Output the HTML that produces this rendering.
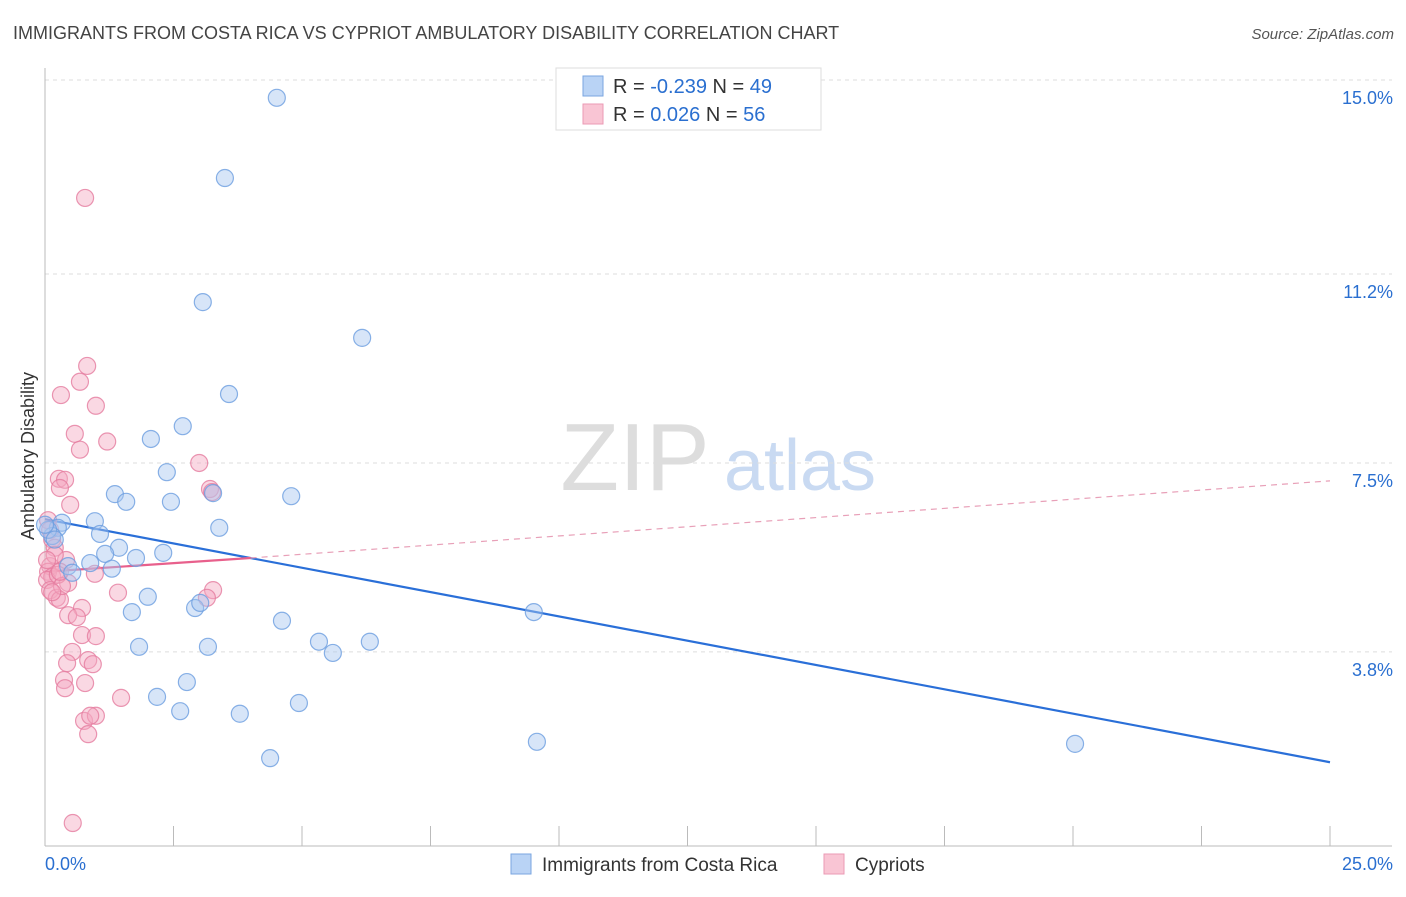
<!DOCTYPE html>
<html><head><meta charset="utf-8"><style>
body{margin:0;background:#fff;font-family:"Liberation Sans",sans-serif}
svg text{font-family:"Liberation Sans",sans-serif}
</style></head><body>
<svg id="chart" width="1406" height="892" xmlns="http://www.w3.org/2000/svg">
<text x="13" y="39" font-size="18" fill="#444">IMMIGRANTS FROM COSTA RICA VS CYPRIOT AMBULATORY DISABILITY CORRELATION CHART</text>
<text x="1394" y="39" font-size="15" fill="#555" text-anchor="end" font-style="italic">Source: ZipAtlas.com</text>
<text transform="translate(34,456) rotate(-90)" font-size="18" fill="#333" text-anchor="middle">Ambulatory Disability</text>
<g><text x="635" y="490" font-size="96" fill="#ddd" font-family="Liberation Serif" text-anchor="middle">ZIP</text><text x="800" y="490" font-size="72" fill="#c9daf2" text-anchor="middle">atlas</text></g>
<g id="grid"></g><g id="axes"></g><g id="lines"></g><g id="points"></g>
<g>
<rect x="556" y="68" width="265" height="62" fill="#fff" stroke="#ddd"/>
<rect x="583" y="76" width="20" height="20" fill="#b9d3f5" stroke="#7aa6e0"/>
<rect x="583" y="104" width="20" height="20" fill="#f9c5d4" stroke="#eb9ab4"/>
<text x="613" y="93" font-size="20" fill="#333">R = <tspan fill="#2a6fd0">-0.239</tspan>   N = <tspan fill="#2a6fd0">49</tspan></text>
<text x="613" y="121" font-size="20" fill="#333">R =  <tspan fill="#2a6fd0"> 0.026</tspan>   N = <tspan fill="#2a6fd0">56</tspan></text>
</g>
<g>
<rect x="511" y="854" width="20" height="20" fill="#b9d3f5" stroke="#7aa6e0"/>
<text x="542" y="871" font-size="19" fill="#333">Immigrants from Costa Rica</text>
<rect x="824" y="854" width="20" height="20" fill="#f9c5d4" stroke="#eb9ab4"/>
<text x="855" y="871" font-size="19" fill="#333">Cypriots</text>
</g>
</svg>
<script>
const yTicks=[3.8,7.5,11.2,15.0];
const yTickLabels=["3.8%","7.5%","11.2%","15.0%"];
const xTickLabels=["0.0%","25.0%"];
const blueX=[4.51,3.50,3.07,6.17,3.58,2.06,2.68,2.37,1.36,1.58,2.45,3.27,4.79,3.39,0.97,0.33,0.25,0.14,1.07,1.44,1.17,1.77,2.30,0.88,0.45,1.30,0.53,2.00,1.69,2.92,3.02,4.61,9.51,5.33,6.32,5.60,1.83,3.17,2.18,2.76,2.63,3.79,4.94,4.38,9.57,20.04,0.06,0.19,0.00];
const blueY=[14.65,13.08,10.65,9.95,8.85,7.97,8.22,7.32,6.89,6.74,6.74,6.91,6.85,6.23,6.36,6.33,6.23,6.07,6.11,5.84,5.72,5.64,5.74,5.54,5.48,5.43,5.35,4.88,4.58,4.66,4.76,4.41,4.58,4.00,4.00,3.78,3.90,3.90,2.92,3.21,2.64,2.59,2.80,1.72,2.04,2.00,6.19,6.00,6.29];
const pinkX=[0.78,0.82,0.68,0.31,0.99,0.58,1.21,0.68,3.00,0.27,0.39,0.29,3.21,0.49,3.25,0.06,0.14,0.19,0.41,0.10,0.06,0.14,0.97,0.04,0.45,0.10,0.23,0.29,1.42,3.27,3.15,0.72,0.45,0.62,0.72,0.99,0.53,0.84,0.43,0.93,0.78,0.37,0.39,1.48,0.76,0.99,0.84,0.54,0.19,0.04,0.10,0.25,0.33,0.14,0.88,0.29];
const pinkY=[12.69,9.40,9.09,8.83,8.62,8.07,7.92,7.76,7.50,7.19,7.17,7.01,6.99,6.68,6.93,6.38,6.00,5.84,5.60,5.48,5.37,5.27,5.33,5.21,5.15,5.01,4.86,4.82,4.96,5.01,4.86,4.66,4.52,4.48,4.13,4.11,3.80,3.64,3.58,3.56,3.19,3.25,3.09,2.90,2.45,2.55,2.19,0.45,5.70,5.60,6.19,5.31,5.09,4.97,2.55,5.37];
const blueTrend=[6.40,1.64];
const pinkTrend=[5.37,5.64,7.15];
const pinkSolidEnd=4;
const NS="http://www.w3.org/2000/svg";
const X=v=>45+v*51.4, Y=v=>846-v*51.07;
function mk(tag,parent,attrs){const e=document.createElementNS(NS,tag);for(const k in attrs)e.setAttribute(k,attrs[k]);document.getElementById(parent).appendChild(e);return e;}
yTicks.forEach((t,i)=>{
 const l=mk('line','grid',{x1:45,x2:1392,y1:Y(t),y2:Y(t),stroke:'#ddd','stroke-dasharray':'4,4'});
 
 
 const tx=mk('text','axes',{x:1393,y:Y(t)+24,'font-size':18,fill:'#2a6fd0','text-anchor':'end'});tx.textContent=yTickLabels[i];
 
 
});
const ax=mk('line','axes',{x1:45,x2:45,y1:68,y2:846,stroke:'#bbb'});


const bx=mk('line','axes',{x1:45,x2:1392,y1:846,y2:846,stroke:'#bbb'});


for(let i=0;i<=10;i++){const t=mk('line','axes',{x1:X(i*2.5),x2:X(i*2.5),y1:826,y2:846,stroke:'#bbb'});
 
 }
[[0,'start',45],[25,'end',1393]].forEach((d,i)=>{const t=mk('text','axes',{x:d[2],y:870,'font-size':18,fill:'#2a6fd0','text-anchor':d[1]});t.textContent=xTickLabels[i];
 
 });
function dots(xs,ys,fill,stroke,name){xs.forEach((x,i)=>{const c=mk('circle','points',{cx:X(x),cy:Y(ys[i]),r:8.5,fill:fill,'fill-opacity':0.45,stroke:stroke,'stroke-width':1.2,'stroke-opacity':0.8});
 
 });}
dots(pinkX,pinkY,'#f5a9c0','#e57c9f','cypriots-point');
dots(blueX,blueY,'#a6c6f0','#6b9de0','costa-rica-point');
const bl=mk('line','lines',{x1:X(0),y1:Y(blueTrend[0]),x2:X(25),y2:Y(blueTrend[1]),stroke:'#2a6fd8','stroke-width':2.2});


const pl=mk('line','lines',{x1:X(0),y1:Y(pinkTrend[0]),x2:X(pinkSolidEnd),y2:Y(pinkTrend[1]),stroke:'#e8608c','stroke-width':2.2});


const pd=mk('line','lines',{x1:X(pinkSolidEnd),y1:Y(pinkTrend[1]),x2:X(25),y2:Y(pinkTrend[2]),stroke:'#e8a0b8','stroke-width':1.2,'stroke-dasharray':'6,5'});


</script>
</body></html>
